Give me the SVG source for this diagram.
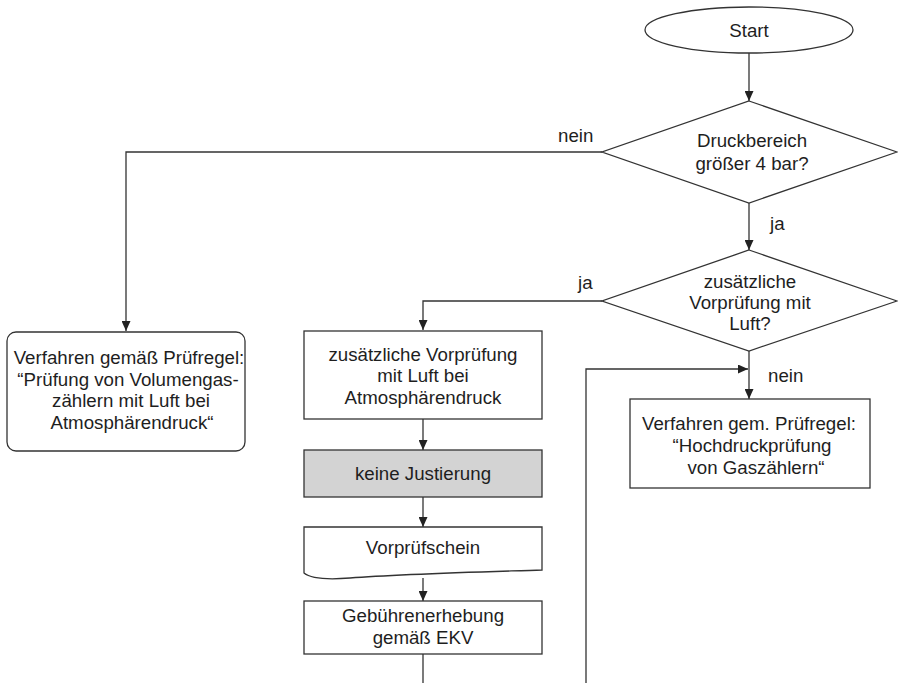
<svg xmlns="http://www.w3.org/2000/svg" width="898" height="683" viewBox="0 0 898 683">
  <style>
    .shape { fill: #ffffff; stroke: #333333; stroke-width: 1.3; }
    .gray { fill: #d3d3d3; }
    .line { fill: none; stroke: #333333; stroke-width: 1.3; }
    text { font-family: "Liberation Sans", Arial, Helvetica, sans-serif; font-size: 18.7px; fill: #1e1e1e; }
    .c { text-anchor: middle; }
  </style>
  <defs>
    <marker id="arr" markerUnits="userSpaceOnUse" markerWidth="10" markerHeight="9" refX="10" refY="4.5" orient="auto">
      <path d="M0,0 L10,4.5 L0,9 Z" fill="#222222"/>
    </marker>
  </defs>

  <rect x="0" y="0" width="898" height="683" fill="#ffffff"/>

  <g id="connectors">
    <path class="line" d="M749,53 V101" marker-end="url(#arr)"/>
    <path class="line" d="M602,152 H126 V331" marker-end="url(#arr)"/>
    <path class="line" d="M749,203 V250" marker-end="url(#arr)"/>
    <path class="line" d="M602,301 H423 V330" marker-end="url(#arr)"/>
    <path class="line" d="M749,351 V399" marker-end="url(#arr)"/>
    <path class="line" d="M423,419 V450" marker-end="url(#arr)"/>
    <path class="line" d="M423,497 V527" marker-end="url(#arr)"/>
    <path class="line" d="M423,578 V601" marker-end="url(#arr)"/>
    <path class="line" d="M423,654 V683"/>
    <path class="line" d="M586,683 V369 H748" marker-end="url(#arr)"/>
    <text x="558" y="142">nein</text>
    <text x="770" y="230">ja</text>
    <text x="578" y="289">ja</text>
    <text x="768" y="382">nein</text>
  </g>

  <g id="start">
    <ellipse class="shape" cx="749" cy="30" rx="104" ry="23"/>
    <text class="c" x="749" y="37">Start</text>
  </g>

  <g id="decision-druck">
    <polygon class="shape" points="749,101 897,152 749,203 602,152"/>
    <text class="c" x="752" y="147">Druckbereich</text>
    <text class="c" x="752" y="170">größer 4 bar?</text>
  </g>

  <g id="decision-vorpruefung">
    <polygon class="shape" points="749,250 897,301 749,351 602,301"/>
    <text class="c" x="750" y="288">zusätzliche</text>
    <text class="c" x="750" y="309">Vorprüfung mit</text>
    <text class="c" x="750" y="330">Luft?</text>
  </g>

  <g id="verfahren-atmosphaere">
    <rect class="shape" x="7" y="332" width="238" height="119" rx="9" ry="9"/>
    <text class="c" x="129" y="364">Verfahren gemäß Prüfregel:</text>
    <text class="c" x="128" y="385.5">“Prüfung von Volumengas-</text>
    <text class="c" x="131" y="407">zählern mit Luft bei</text>
    <text class="c" x="132" y="428.5">Atmosphärendruck“</text>
  </g>

  <g id="vorpruefung-luft">
    <rect class="shape" x="304" y="331" width="238" height="88"/>
    <text class="c" x="423" y="360.5">zusätzliche Vorprüfung</text>
    <text class="c" x="423" y="382">mit Luft bei</text>
    <text class="c" x="423" y="403.5">Atmosphärendruck</text>
  </g>

  <g id="keine-justierung">
    <rect class="shape gray" x="304" y="450" width="238" height="47"/>
    <text class="c" x="423" y="480">keine Justierung</text>
  </g>

  <g id="vorpruefschein">
    <path class="shape" d="M304,527 H542 V570 C480,572 400,574 350,578 C325,580 310,578 304,573 Z"/>
    <text class="c" x="423" y="554">Vorprüfschein</text>
  </g>

  <g id="gebuehrenerhebung">
    <rect class="shape" x="304" y="601" width="238" height="53"/>
    <text class="c" x="423" y="622">Gebührenerhebung</text>
    <text class="c" x="423" y="644">gemäß EKV</text>
  </g>

  <g id="verfahren-hochdruck">
    <rect class="shape" x="630" y="399" width="240" height="89"/>
    <text class="c" x="749" y="430">Verfahren gem. Prüfregel:</text>
    <text class="c" x="752" y="452">“Hochdruckprüfung</text>
    <text class="c" x="756" y="473.5">von Gaszählern“</text>
  </g>
</svg>
